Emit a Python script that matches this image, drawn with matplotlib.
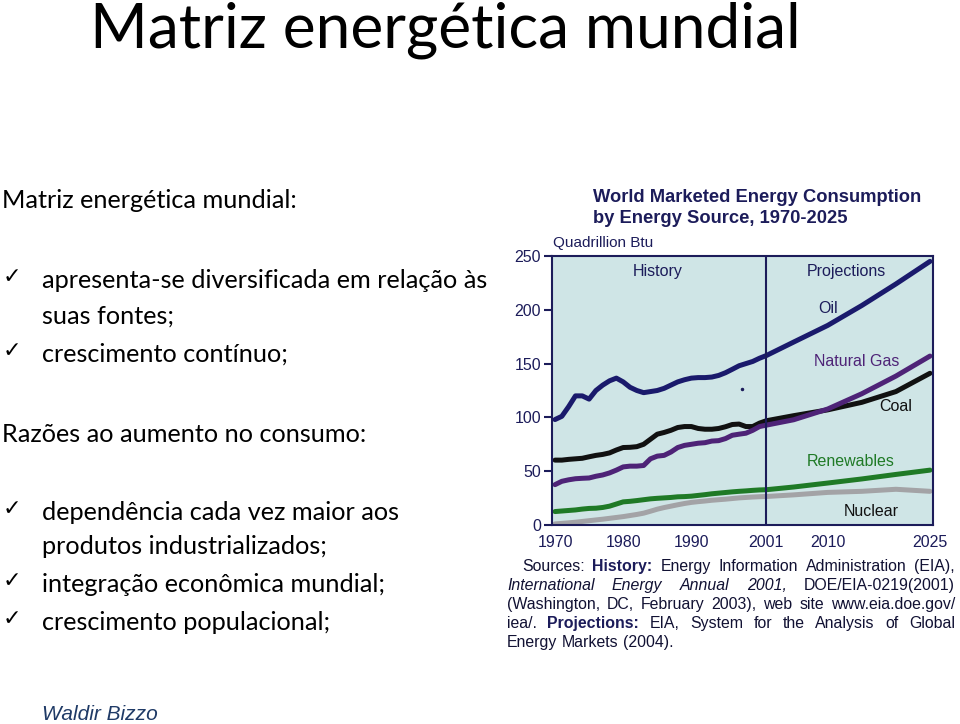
import matplotlib
matplotlib.use("Agg")
import matplotlib.pyplot as plt
import numpy as np

# ---------------- data ----------------
hist_years = list(range(1970, 2002))
oil_hist = [98, 101, 110, 120, 120, 117, 125, 130, 134, 136.5, 133, 128, 125, 123, 124, 125,
            127, 130, 133, 135, 136.5, 137, 137, 137.5, 139, 141.5, 144.7, 148, 150, 152, 155, 157.5]
gas_hist = [37.5, 40.6, 42, 43, 43.4, 43.7, 45.3, 46.5, 48.4, 51, 54, 54.7, 54.7, 55.3, 61.5, 64,
            64.7, 67.8, 72, 74, 75, 76, 76.5, 78, 78.4, 80.3, 83.4, 84.4, 85.3, 88, 91.5, 92.8]
coal_hist = [60.3, 60.3, 61, 61.5, 62, 63.4, 64.7, 65.6, 67, 69.7, 72, 72.2, 72.8, 75, 79.7, 84.4,
             86, 88, 90.6, 91.5, 91.5, 89.7, 89, 89, 89.7, 91.3, 93.4, 93.8, 91.5, 91.5, 94.7, 96.9]
ren_hist = [12.5, 13, 13.5, 14, 14.8, 15.4, 15.6, 16.3, 17.5, 19.5, 21.5, 22, 22.7, 23.5, 24.3, 24.8,
            25.2, 25.6, 26.2, 26.4, 26.8, 27.5, 28.2, 29, 29.6, 30.2, 30.8, 31.3, 31.7, 32.2, 32.6, 32.8]
nuc_hist = [1, 1.5, 2, 2.6, 3.3, 4, 4.7, 5.4, 6.2, 7, 7.8, 8.8, 9.8, 11, 12.8, 14.7,
            16.2, 17.5, 18.8, 20, 21, 21.7, 22.3, 23, 23.5, 24, 24.6, 25.2, 25.6, 26, 26.3, 26.5]

proj_years = [2001, 2005, 2010, 2015, 2020, 2025]
oil_proj = [157.5, 170, 185.5, 204, 224, 245]
gas_proj = [92.8, 97.8, 107.8, 122, 138.4, 157]
coal_proj = [96.9, 101.6, 107, 114, 124, 141]
ren_proj = [32.8, 35.3, 39, 42.8, 47, 51]
nuc_proj = [26.5, 28, 30.3, 31.3, 33.2, 31.3]

x_ticks = [1970, 1980, 1990, 2001, 2010, 2025]
y_ticks = [0, 50, 100, 150, 200, 250]

W, H = 960, 724
fig = plt.figure(figsize=(W / 100, H / 100), dpi=100)
fig.patch.set_facecolor("white")

def fx(x):
    return x / W

def fy(y):
    return 1 - y / H

BODY = ["Lato", "DejaVu Sans"]
NAVY = "#1c1c5a"

# ---------------- slide text ----------------
fig.text(fx(90), fy(30), "Matriz energética mundial", fontsize=44.8, family=BODY,
         va="center", ha="left", color="black")

body_lines = [
    (2, 201, "Matriz energética mundial:", False),
    (42, 280, "apresenta-se diversificada em relação às", True),
    (42, 316, "suas fontes;", False),
    (42, 354, "crescimento contínuo;", True),
    (2, 434, "Razões ao aumento no consumo:", False),
    (42, 512, "dependência cada vez maior aos", True),
    (42, 546, "produtos industrializados;", False),
    (42, 584, "integração econômica mundial;", True),
    (42, 622, "crescimento populacional;", True),
]
for x, y, s, chk in body_lines:
    fig.text(fx(x), fy(y), s, fontsize=18.2, family=BODY, va="center", ha="left", color="black")
    if chk:
        fig.text(fx(3), fy(y - 3), "\u2713", fontsize=16, family=["DejaVu Sans"],
                 va="center", ha="left", color="black")

fig.text(fx(42), fy(715), "Waldir Bizzo", fontsize=15, family=["Liberation Sans"],
         style="italic", va="center", ha="left", color="#1f3a66")

# ---------------- chart ----------------
CH = ["Liberation Sans", "DejaVu Sans"]
fig.text(fx(593), fy(198), "World Marketed Energy Consumption", fontsize=13.2, family=CH,
         weight="bold", color=NAVY, va="center", ha="left")
fig.text(fx(593), fy(219), "by Energy Source, 1970-2025", fontsize=13.2, family=CH,
         weight="bold", color=NAVY, va="center", ha="left")
fig.text(fx(553), fy(243), "Quadrillion Btu", fontsize=11, family=CH, color=NAVY,
         va="center", ha="left")

ax = fig.add_axes([fx(552), fy(525), (933 - 552) / W, (525 - 256) / H])
ax.set_facecolor("#cfe5e6")
ax.set_xlim(1969.56, 2025.44)
ax.set_ylim(0, 250)
for sp in ax.spines.values():
    sp.set_color(NAVY)
    sp.set_linewidth(1.5)
ax.set_yticks(y_ticks)
ax.set_xticks(x_ticks)
ax.tick_params(axis="y", colors=NAVY, length=6, width=1.5, labelsize=11.5, pad=2)
ax.tick_params(axis="x", colors=NAVY, length=0, labelsize=11.5, pad=7)
for lab in ax.get_xticklabels() + ax.get_yticklabels():
    lab.set_family(CH)

series = [
    (nuc_hist, nuc_proj, "#a3a3a6"),
    (ren_hist, ren_proj, "#1f7a26"),
    (coal_hist, coal_proj, "#111111"),
    (gas_hist, gas_proj, "#4e2377"),
    (oil_hist, oil_proj, "#1a1a6c"),
]
for h, p, c in series:
    ax.plot(hist_years + proj_years[1:], h + p[1:], color=c, lw=3.6, solid_capstyle="round",
            solid_joinstyle="round")

ax.axvline(2001, color=NAVY, lw=1.5)
ax.plot([1997.4], [126.4], marker="o", ms=1.5, color=NAVY)

labels = [
    (1985, 236, "History", NAVY),
    (2012.8, 236, "Projections", NAVY),
    (2010.1, 201, "Oil", NAVY),
    (2014.2, 152, "Natural Gas", "#4e2377"),
    (2020.0, 110, "Coal", "#111111"),
    (2013.4, 59, "Renewables", "#1f7a26"),
    (2016.4, 13, "Nuclear", "#111111"),
]
for x, y, s, c in labels:
    ax.text(x, y, s, fontsize=11.5, family=CH, color=c, ha="center", va="center")

# ---------------- sources (justified block) ----------------
renderer = fig.canvas.get_renderer()
SRC_FS = 11.4

def measure(s, weight="normal", style="normal"):
    t = fig.text(0, 0, s, fontsize=SRC_FS, family=CH, weight=weight, style=style)
    bb = t.get_window_extent(renderer=renderer)
    t.remove()
    return bb.width

src_lines = [
    (522, 571, True, [("Sources:", "normal", "normal"), ("History:", "bold", "normal"),
                      ("Energy", "normal", "normal"), ("Information", "normal", "normal"),
                      ("Administration", "normal", "normal"), ("(EIA),", "normal", "normal")]),
    (507, 590, True, [("International", "normal", "italic"), ("Energy", "normal", "italic"),
                      ("Annual", "normal", "italic"), ("2001,", "normal", "italic"),
                      ("DOE/EIA-0219(2001)", "normal", "normal")]),
    (507, 609, True, [("(Washington,", "normal", "normal"), ("DC,", "normal", "normal"),
                      ("February", "normal", "normal"), ("2003),", "normal", "normal"),
                      ("web", "normal", "normal"), ("site", "normal", "normal"),
                      ("www.eia.doe.gov/", "normal", "normal")]),
    (507, 628, True, [("iea/.", "normal", "normal"), ("Projections:", "bold", "normal"),
                      ("EIA,", "normal", "normal"), ("System", "normal", "normal"),
                      ("for", "normal", "normal"), ("the", "normal", "normal"),
                      ("Analysis", "normal", "normal"), ("of", "normal", "normal"),
                      ("Global", "normal", "normal")]),
    (507, 647, False, [("Energy", "normal", "normal"), ("Markets", "normal", "normal"),
                       ("(2004).", "normal", "normal")]),
]
RIGHT = 955
space_w = measure("a a") - measure("aa")
for x0, y, just, words in src_lines:
    widths = [measure(w, wt, st) for w, wt, st in words]
    if just and len(words) > 1:
        gap = (RIGHT - x0 - sum(widths)) / (len(words) - 1)
    else:
        gap = space_w
    x = x0
    for (w, wt, st), wd in zip(words, widths):
        fig.text(fx(x), fy(y), w, fontsize=SRC_FS, family=CH, weight=wt, style=st,
                 color="#111133" if wt == "normal" else NAVY, va="baseline", ha="left")
        x += wd + gap

fig.savefig("out.png", dpi=100, facecolor="white")
